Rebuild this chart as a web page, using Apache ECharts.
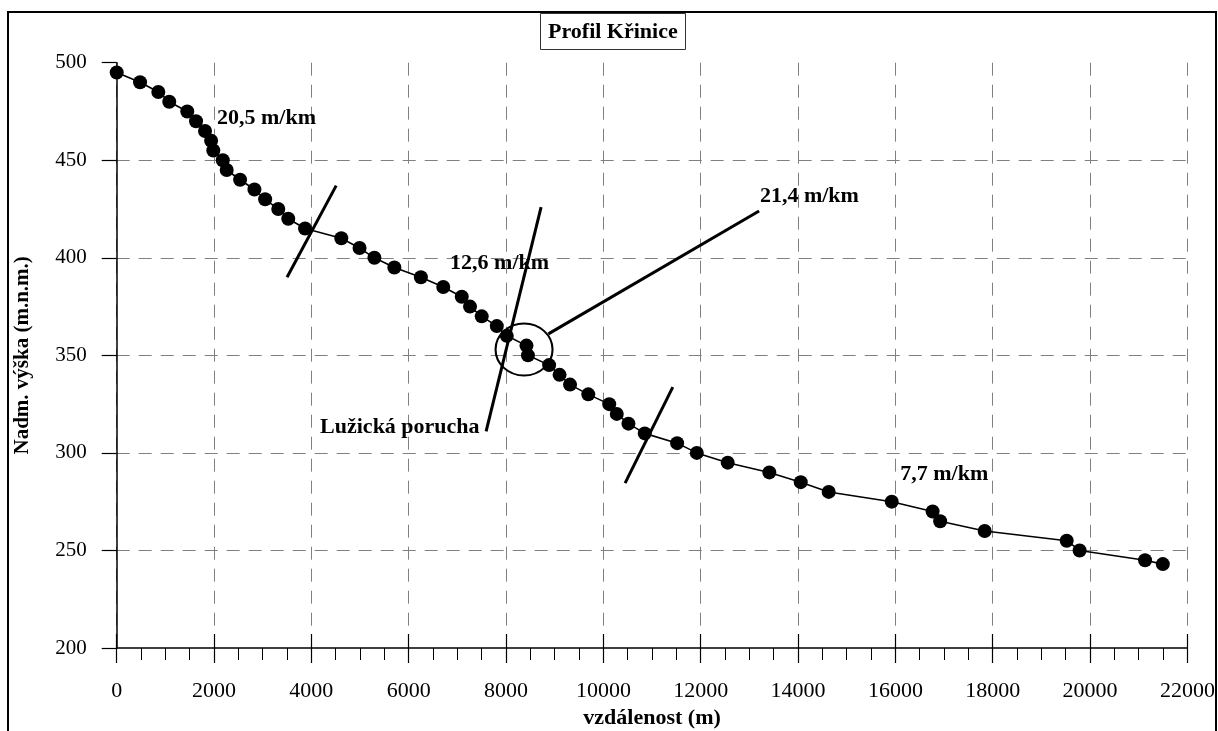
<!DOCTYPE html>
<html>
<head>
<meta charset="utf-8">
<title>Profil Křinice</title>
<script src="https://cdn.jsdelivr.net/npm/echarts@6/dist/echarts.min.js"></script>
<style>
  html, body { margin: 0; padding: 0; background: #fff; }
  #chart { width: 1218px; height: 731px; }
</style>
</head>
<body>
<div id="chart"></div>
<script>
// Longitudinal profile of the Křinice river: distance (m) vs. elevation (m a.s.l.)
const distance = [0, 480, 855, 1080, 1450, 1630, 1815, 1940, 1985, 2180,
  2260, 2535, 2830, 3050, 3320, 3525, 3870, 4615, 4990, 5295,
  5705, 6250, 6710, 7090, 7260, 7500, 7810, 8015, 8420, 8450,
  8885, 9100, 9315, 9690, 10120, 10275, 10515, 10850, 11515, 11920,
  12555, 13410, 14055, 14630, 15925, 16765, 16920, 17835, 19520, 19785,
  21130, 21495];
const elevation = [495, 490, 485, 480, 475, 470, 465, 460, 455, 450,
  445, 440, 435, 430, 425, 420, 415, 410, 405, 400,
  395, 390, 385, 380, 375, 370, 365, 360, 355, 350,
  345, 340, 335, 330, 325, 320, 315, 310, 305, 300,
  295, 290, 285, 280, 275, 270, 265, 260, 255, 250,
  245, 243];

// Axis ranges
const xRange = [0, 22000, 2000];
const yRange = [200, 500, 50];

// Section boundaries, the fault line and its leader (data units)
const sectionBreak1 = [[3500, 390], [4510, 437]];
const faultLine = [[7590, 311], [8720, 426]];
const leaderLine = [[8870, 361], [13200, 424]];
const sectionBreak2 = [[10446, 284.5], [11426, 333.7]];
const faultCircle = [8370, 353];

// Gradient labels anchored at their left edge (data units)
const noteText = ['20,5 m/km', '12,6 m/km', '21,4 m/km', 'Lužická porucha', '7,7 m/km'];
const noteX = [2061, 6850, 13216, 4179, 16099];
const noteY = [471.3, 397.4, 431.3, 313.3, 289.2];

const serif = 'Liberation Serif';

const profile = distance.map((d, i) => [d, elevation[i]]);
const notes = noteText.map((t, i) => ({ value: [noteX[i], noteY[i]], name: t }));

function segment(pts) {
  return {
    type: 'line', data: pts, symbol: 'none', silent: true, z: 5,
    lineStyle: { color: '#000', width: 3, opacity: 1 }
  };
}

const chart = echarts.init(document.getElementById('chart'), null, { renderer: 'canvas' });

chart.setOption({
  backgroundColor: '#fff',
  animation: false,
  title: {
    text: 'Profil Křinice',
    left: 540, top: 13,
    padding: [8, 8, 7, 8],
    borderColor: '#333', borderWidth: 1,
    backgroundColor: '#fff',
    textStyle: { fontFamily: serif, fontWeight: 'bold', fontSize: 22, color: '#000' }
  },
  graphic: [{
    type: 'rect',
    shape: { x: 8, y: 12, width: 1208, height: 760 },
    style: { fill: 'none', stroke: '#000', lineWidth: 2 },
    z: -1, silent: true
  }],
  grid: { left: 116.7, right: 30.6, top: 62.7, bottom: 83, outerBoundsMode: 'none', containLabel: false },
  xAxis: [{
    type: 'value',
    min: xRange[0], max: xRange[1], interval: xRange[2],
    name: 'vzdálenost (m)',
    nameLocation: 'middle', nameGap: 57,
    nameTextStyle: { fontFamily: serif, fontWeight: 'bold', fontSize: 22, color: '#000' },
    axisLine: { show: true, lineStyle: { color: '#000', width: 1.5 } },
    axisTick: { show: true, length: 15, lineStyle: { color: '#000', width: 1.2 } },
    minorTick: { show: true, splitNumber: 4, length: 12, lineStyle: { color: '#000', width: 1 } },
    axisLabel: { fontFamily: serif, fontSize: 22, color: '#000', margin: 32, formatter: v => String(v) },
    splitLine: { show: true, lineStyle: { color: '#808080', width: 1, type: [13, 9] } }
  }, {
    type: 'value',
    min: xRange[0], max: xRange[1], interval: xRange[2],
    position: 'bottom',
    axisLine: { show: false },
    axisTick: { show: true, inside: true, length: 14, lineStyle: { color: '#000', width: 1.2 } },
    axisLabel: { show: false },
    splitLine: { show: false }
  }],
  yAxis: {
    type: 'value',
    min: yRange[0], max: yRange[1], interval: yRange[2],
    name: 'Nadm. výška (m.n.m.)',
    nameLocation: 'middle', nameGap: 84,
    nameTextStyle: { fontFamily: serif, fontWeight: 'bold', fontSize: 21, color: '#000' },
    axisLine: { show: true, lineStyle: { color: '#000', width: 1.5 } },
    axisTick: { show: true, length: 15, lineStyle: { color: '#000', width: 1.2 } },
    axisLabel: { fontFamily: serif, fontSize: 21, color: '#000', margin: 30 },
    splitLine: {
      show: true,
      lineStyle: {
        color: ['rgba(0,0,0,0)', '#808080', '#808080', '#808080', '#808080', '#808080', 'rgba(0,0,0,0)'],
        width: 1, type: [13, 9]
      }
    }
  },
  series: [
    {
      name: 'profil',
      type: 'line',
      data: profile,
      symbol: 'circle', symbolSize: 14,
      itemStyle: { color: '#000', opacity: 1 },
      lineStyle: { color: '#000', width: 1.6 },
      z: 3
    },
    segment(sectionBreak1),
    segment(faultLine),
    segment(leaderLine),
    segment(sectionBreak2),
    {
      type: 'scatter',
      data: [faultCircle],
      symbol: 'circle', symbolSize: [57, 52],
      itemStyle: { color: 'rgba(0,0,0,0)', borderColor: '#000', borderWidth: 2, opacity: 1 },
      silent: true, z: 4
    },
    {
      type: 'scatter',
      data: notes,
      symbolSize: 0,
      silent: true, z: 6,
      itemStyle: { opacity: 1 },
      label: {
        show: true, position: 'right', distance: 0,
        formatter: p => p.name,
        fontFamily: serif, fontWeight: 'bold', fontSize: 22, color: '#000'
      }
    }
  ]
});
</script>
</body>
</html>
